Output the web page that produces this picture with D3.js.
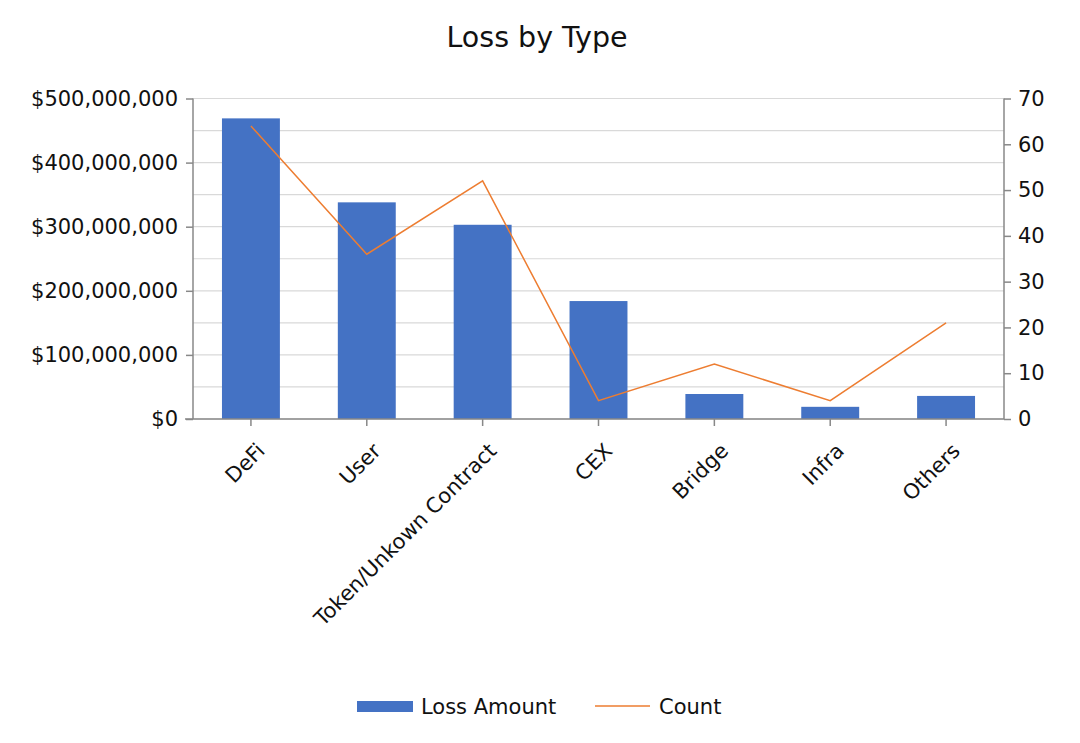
<!DOCTYPE html>
<html><head><meta charset="utf-8">
<script src="https://cdn.jsdelivr.net/npm/d3@7"></script>
<style>body{margin:0;background:#fff}text{font-family:"DejaVu Sans",sans-serif;fill:#111}</style>
</head><body>
<svg id="c" width="1080" height="743"></svg>
<script>
const categories = ["DeFi","User","Token/Unkown Contract","CEX","Bridge","Infra","Others"];
const lossAmount = [469000000,338000000,303000000,184000000,39000000,19000000,36000000];
const countValues = [64,36,52,4,12,4,21];
const leftTicks = [0,100000000,200000000,300000000,400000000,500000000];
const gridValues = [0,50000000,100000000,150000000,200000000,250000000,300000000,350000000,400000000,450000000,500000000];
const rightTicks = [0,10,20,30,40,50,60,70];

const svg = d3.select("#c");
const L=193, R=1004, T=98.5, B=419;
const FS = "21px";
const x = d3.scaleBand().domain(categories).range([L,R]).paddingInner(0.5).paddingOuter(0.25);
const xc = d => x(d)+x.bandwidth()/2;
const yL = d3.scaleLinear().domain([0,500000000]).range([B,T]);
const yR = d3.scaleLinear().domain([0,70]).range([B,T]);

svg.append("text").attr("x",537).attr("y",47).attr("text-anchor","middle").style("font-size","28.5px").text("Loss by Type");

svg.append("g").selectAll("line").data(gridValues).join("line")
 .attr("x1",L).attr("x2",R).attr("y1",d=>yL(d)).attr("y2",d=>yL(d))
 .attr("stroke","#d9d9d9").attr("stroke-width",1.2);

svg.append("g").selectAll("rect").data(lossAmount).join("rect")
 .attr("x",(d,i)=>x(categories[i])).attr("width",x.bandwidth())
 .attr("y",d=>yL(d)).attr("height",d=>B-yL(d)).attr("fill","#4472C4");

const fmt = d => "$" + d3.format(",")(d);
const gl = svg.append("g").attr("transform",`translate(${L},0)`).call(d3.axisLeft(yL).tickValues(leftTicks).tickFormat(fmt).tickSize(7).tickPadding(8));
const gr = svg.append("g").attr("transform",`translate(${R},0)`).call(d3.axisRight(yR).tickValues(rightTicks).tickSize(7).tickPadding(7));
const gx = svg.append("g").attr("transform",`translate(0,${B})`).call(d3.axisBottom(x).tickSize(7).tickSizeOuter(0).tickPadding(6));
[gl,gr,gx].forEach(g=>{
  g.select(".domain").attr("stroke","#888").attr("stroke-width",1.5);
  g.selectAll(".tick line").attr("stroke","#888").attr("stroke-width",1.5);
  g.selectAll("text").style("font-size",FS).attr("fill","#111");
});
gl.select(".domain").attr("d",`M0,${T}V${B}`);
gr.select(".domain").attr("d",`M0,${T}V${B}`);
gx.select(".domain").attr("d",`M${L-8},0H${R}`);
gx.selectAll(".tick text").attr("text-anchor","end").attr("dy","0.35em")
 .attr("transform","translate(10,28) rotate(-45)").attr("y",0).attr("x",0);

const line = d3.line().x((d,i)=>xc(categories[i])).y(d=>yR(d));
svg.append("path").datum(countValues).attr("d",line).attr("fill","none").attr("stroke","#ED7D31").attr("stroke-width",1.5);

const lg = svg.append("g");
lg.append("rect").attr("x",357).attr("y",701).attr("width",56).attr("height",11).attr("fill","#4472C4");
lg.append("text").attr("x",421).attr("y",714).style("font-size",FS).text("Loss Amount");
lg.append("line").attr("x1",595).attr("x2",650).attr("y1",706).attr("y2",706).attr("stroke","#ED7D31").attr("stroke-width",1.5);
lg.append("text").attr("x",659).attr("y",714).style("font-size",FS).text("Count");
</script>
</body></html>
